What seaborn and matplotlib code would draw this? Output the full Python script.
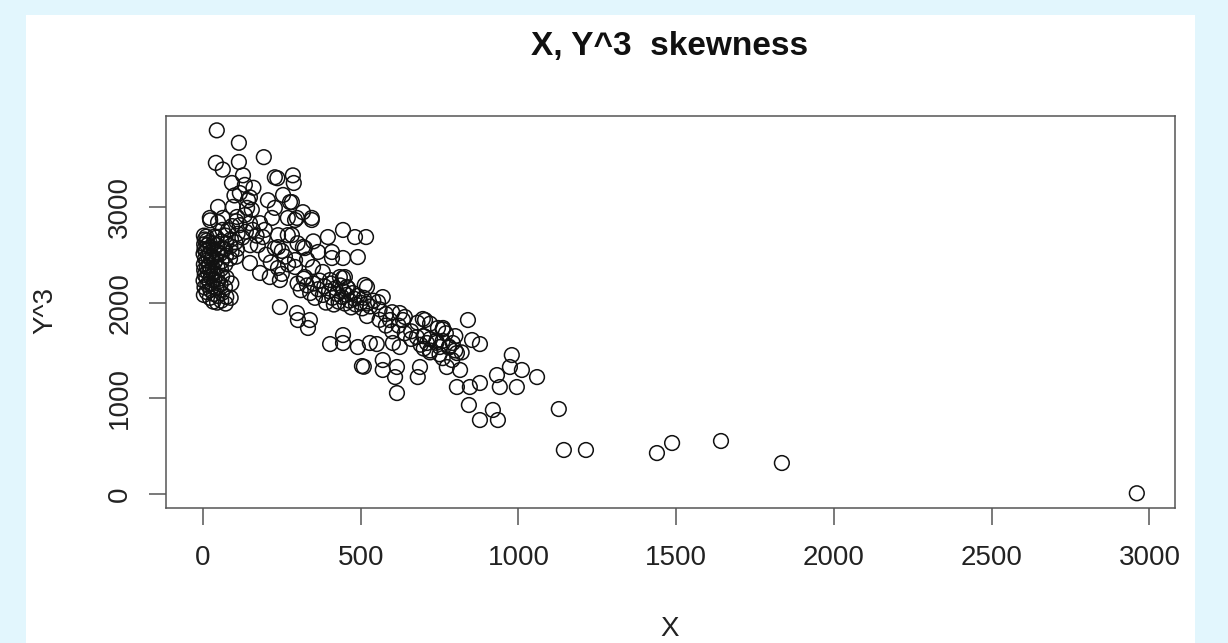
import matplotlib
matplotlib.use('Agg')
import matplotlib.pyplot as plt
import seaborn as sns
import pandas as pd
from matplotlib.patches import Rectangle

# ---- data ----
# dense column near X = 0..110
a_x = [3, 5, 2, 6, 4, 3, 7, 2, 5, 4, 6, 3,
       12, 14, 11, 15, 13, 12, 16, 10, 14, 13, 11,
       22, 24, 21, 25, 23, 20, 26, 22, 24, 21, 23,
       33, 35, 31, 36, 34, 32, 37, 30, 35, 33, 36,
       45, 47, 43, 48, 44, 46, 42, 47, 45, 43, 48,
       58, 60, 56, 61, 57, 59, 55, 60, 58, 62,
       72, 74, 70, 75, 71, 73, 69, 74, 72,
       88, 90, 86, 91, 87, 89, 92,
       105, 108, 103, 110, 106]
a_y = [2080, 2160, 2230, 2290, 2340, 2400, 2460, 2510, 2560, 2610, 2660, 2700,
       2110, 2190, 2260, 2320, 2370, 2440, 2490, 2540, 2600, 2650, 2690,
       2050, 2130, 2200, 2270, 2330, 2390, 2450, 2520, 2580, 2630, 2860,
       2010, 2090, 2170, 2240, 2300, 2360, 2420, 2480, 2550, 2620, 2690,
       2000, 2070, 2150, 2220, 2290, 2370, 2450, 2530, 2600, 2680, 2840,
       2020, 2100, 2190, 2280, 2350, 2430, 2510, 2570, 2640, 2760,
       1990, 2060, 2160, 2260, 2400, 2490, 2560, 2620, 2700,
       2050, 2200, 2460, 2530, 2590, 2660, 2800,
       2480, 2560, 2630, 2720, 2850]
# upper arm
b_x = [44, 114, 193, 41, 114, 63, 92, 127, 133, 117, 149, 140, 95, 48, 22, 63, 108,
       228, 236, 285, 288, 206, 254, 276, 228, 317, 269, 298, 345, 219, 181, 149,
       238, 269, 190, 158, 238, 133, 155, 117, 80, 136, 174, 196, 143, 100, 160,
       125, 150, 170]
b_y = [3800, 3670, 3520, 3460, 3470, 3390, 3250, 3330, 3230, 3145, 3100, 2990, 3000,
       3000, 2885, 2885, 2895, 3310, 3300, 3330, 3250, 3070, 3125, 3050, 2990, 2945,
       2885, 2885, 2885, 2885, 2830, 2830, 2705, 2705, 2685, 2760, 2580, 2915, 2970,
       2810, 2760, 2740, 2600, 2760, 3070, 3120, 3200, 2680, 2600, 2700]
# middle part
c_x = [282, 345, 292, 396, 444, 482, 517, 282, 323, 365, 409, 409, 444, 491, 349,
       380, 444, 513, 323, 292, 292, 244, 212, 181, 149, 238, 228, 317, 260, 200,
       215, 250, 270, 330, 350, 300, 250]
c_y = [3050, 2863, 2863, 2685, 2759, 2685, 2685, 2706, 2570, 2529, 2529, 2466, 2466,
       2476, 2372, 2320, 2257, 2184, 2267, 2372, 2445, 2236, 2267, 2310, 2414, 2362,
       2570, 2581, 2480, 2500, 2420, 2300, 2400, 2450, 2640, 2620, 2540]
# sloping band
d_x = [300, 310, 320, 330, 340, 350, 355, 365, 370, 380, 385, 390, 400, 405, 410,
       415, 420, 425, 430, 435, 440, 445, 450, 455, 460, 465, 470, 475, 480, 485,
       490, 500, 505, 510, 520, 530, 540, 560, 580, 600, 620, 640, 660, 680, 700,
       720, 740, 760, 780, 800, 820, 790, 760, 720, 700, 660, 640, 600, 580, 560, 520]
d_y = [2200, 2130, 2250, 2180, 2100, 2200, 2050, 2140, 2230, 2080, 2170, 2000, 2120,
       2200, 2050, 1980, 2150, 2090, 2010, 2180, 2060, 2120, 1990, 2080, 2150, 2020,
       1950, 2100, 2040, 1980, 2070, 2000, 1940, 2050, 1990, 1960, 2020, 1930, 1880,
       1900, 1760, 1850, 1700, 1790, 1650, 1780, 1600, 1720, 1530, 1650, 1480, 1400,
       1420, 1480, 1520, 1620, 1680, 1700, 1760, 1820, 1860]
# lower scattered part
e_x = [244, 298, 301, 339, 333, 403, 444, 444, 491, 529, 551, 602, 624, 678, 710,
       751, 792, 805, 853, 878, 504, 510, 570, 570, 615, 688, 681, 609, 773, 815,
       979, 973, 1011, 932, 1059, 805, 846, 878, 941, 995, 615, 843, 878, 919, 935,
       624, 593, 634, 697, 745, 761, 840, 570, 555, 456, 520, 403, 434, 450, 704,
       700, 720, 740, 760, 780, 800, 720, 750, 690, 770]
e_y = [1954, 1891, 1818, 1818, 1735, 1567, 1661, 1578, 1536, 1578, 1567, 1578, 1536,
       1640, 1578, 1536, 1578, 1473, 1609, 1567, 1337, 1330, 1400, 1296, 1327, 1327,
       1222, 1222, 1327, 1296, 1452, 1327, 1296, 1243, 1222, 1118, 1118, 1160, 1118,
       1118, 1055, 930, 773, 878, 773, 1891, 1818, 1818, 1829, 1735, 1735, 1818, 2058,
       2006, 2163, 2163, 2236, 2267, 2267, 1818, 1650, 1620, 1580, 1600, 1540, 1500,
       1500, 1460, 1560, 1680]
# far points
f_x = [1128, 1144, 1214, 1439, 1487, 1642, 1835, 2960]
f_y = [888, 460, 460, 428, 533, 554, 324, 8]

x_ticks = [0, 500, 1000, 1500, 2000, 2500, 3000]
y_ticks = [0, 1000, 2000, 3000]

df = pd.DataFrame({
    'X': a_x + b_x + c_x + d_x + e_x + f_x,
    'Y3': a_y + b_y + c_y + d_y + e_y + f_y,
})

# ---- style ----
sns.set_style('white')
plt.rcParams['font.family'] = ['Liberation Sans', 'DejaVu Sans']

W, H = 1228, 643
fig = plt.figure(figsize=(W / 100, H / 100), dpi=100, facecolor='#e2f6fd')
fig.patches.append(Rectangle((26 / W, 0), (1195 - 26) / W, (643 - 15) / H,
                             transform=fig.transFigure, facecolor='white',
                             edgecolor='none', zorder=-10))

ax = fig.add_axes([166 / W, 1 - 508 / H, (1175 - 166) / W, (508 - 116) / H])
ax.set_facecolor('white')
ax.set_zorder(5)

sns.scatterplot(data=df, x='X', y='Y3', ax=ax, marker='o', s=112,
                linewidth=1.1, legend=False)
coll = ax.collections[0]
coll.set_facecolor('none')
coll.set_edgecolor('#111111')

ax.set_xlim(-117, 3081)
ax.set_ylim(-146, 3950)
ax.set_xticks(x_ticks)
ax.set_yticks(y_ticks)
ax.set_xticklabels([str(v) for v in x_ticks])
ax.set_yticklabels([str(v) for v in y_ticks])

for sp in ax.spines.values():
    sp.set_visible(True)
    sp.set_color('#555555')
    sp.set_linewidth(1.1)

ax.tick_params(axis='both', which='major', direction='out', length=12.5,
               width=1.1, color='#555555', labelsize=20, labelcolor='#222222',
               bottom=True, left=True, top=False, right=False)
ax.tick_params(axis='x', pad=14)
ax.tick_params(axis='y', pad=11, labelrotation=90)
for lab in ax.get_yticklabels():
    lab.set_va('center')

ax.set_xlabel('')
ax.set_ylabel('')

fig.text(670 / W, 1 - 47 / H, 'X, Y^3  skewness', ha='center', va='center',
         fontsize=24, fontweight='bold', color='#111111', zorder=6)
fig.text(45 / W, 1 - 311 / H, 'Y^3', ha='center', va='center', rotation=90,
         fontsize=20, color='#222222', zorder=6)
fig.text(670 / W, 1 - 629 / H, 'X', ha='center', va='center',
         fontsize=20, color='#222222', zorder=6)

fig.savefig('out.png', dpi=100, facecolor=fig.get_facecolor())
